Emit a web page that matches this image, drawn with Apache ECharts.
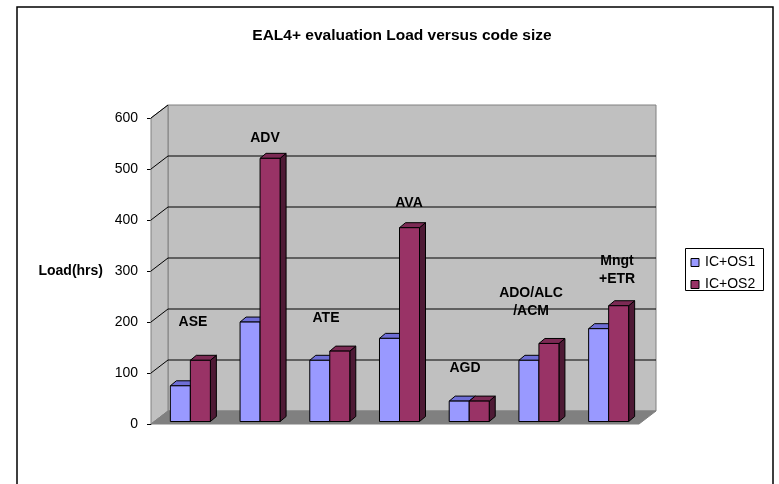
<!DOCTYPE html>
<html>
<head>
<meta charset="utf-8">
<script src="https://cdn.jsdelivr.net/npm/echarts@6/dist/echarts.min.js"></script>
<style>
  html, body { margin: 0; padding: 0; background: #fff; }
  #chart { width: 779px; height: 484px; }
</style>
</head>
<body>
<div id="chart"></div>
<script>
// Evaluation phases (one pair of columns per phase)
const categories = ['ASE', 'ADV', 'ATE', 'AVA', 'AGD', 'ADO', 'Mngt'];
// Load in hours per phase
const icOs1 = [70, 195, 120, 163, 40, 120, 182];
const icOs2 = [120, 516, 138, 380, 40, 153, 227];
const seriesNames = ['IC+OS1', 'IC+OS2'];
// Phase captions and the load level each caption sits at
const noteText = ['ASE', 'ADV', 'ATE', 'AVA', 'AGD', 'ADO/ALC\n/ACM', 'Mngt\n+ETR'];
const noteLevel = [195, 556, 203, 428, 105, 234, 296];
// Axis ticks
const yTicks = [0, 100, 200, 300, 400, 500, 600];

const FONT = 'Liberation Sans, Arial, sans-serif';
// Perspective: back wall offset from the front plane, and bar placement inside the box
const DEPTH = [17, -13];
const BAR_SHIFT = [4.5, -2.5];
const BAR_DEPTH = [6, -5];
const NOTE_NUDGE = [2.6, 4.9, -3.8, 9.5, -4.2, -7.9, 8.4];

const palette = [
  { front: '#9999ff', top: '#6e6ed6', side: '#4d4d99' },
  { front: '#993366', top: '#7c2a54', side: '#4e1a35' }
];

function poly(points, fill, stroke, lw) {
  return { type: 'polygon', shape: { points: points },
           style: { fill: fill, stroke: stroke, lineWidth: lw || 1 } };
}

// Walls, floor and gridlines of the 3-D box
function renderBox(params, api) {
  const cs = params.coordSys;
  const x0 = cs.x, y0 = cs.y, x1 = cs.x + cs.width, y1 = cs.y + cs.height;
  const dx = DEPTH[0], dy = DEPTH[1];
  const kids = [];
  kids.push(poly([[x0 + dx, y0 + dy], [x1 + dx, y0 + dy], [x1 + dx, y1 + dy], [x0 + dx, y1 + dy]], '#c0c0c0', '#808080'));
  kids.push(poly([[x0, y0], [x0 + dx, y0 + dy], [x0 + dx, y1 + dy], [x0, y1]], '#c0c0c0', '#808080'));
  kids.push(poly([[x0, y1], [x0 + dx, y1 + dy], [x1 + dx, y1 + dy], [x1, y1]], '#808080', '#808080'));
  yTicks.forEach(function (t) {
    if (t === yTicks[0]) return;
    const y = api.coord([0, t])[1];
    const pts = (t === yTicks[yTicks.length - 1])
      ? [[x0, y], [x0 + dx, y + dy]]
      : [[x0, y], [x0 + dx, y + dy], [x1 + dx, y + dy]];
    kids.push({ type: 'polyline', shape: { points: pts },
                style: { stroke: '#000', lineWidth: 1, fill: null } });
  });
  return { type: 'group', children: kids };
}

// One 3-D column: front, top and right-hand faces
function barRenderer(idx) {
  return function (params, api) {
    const i = api.value(0), v = api.value(1);
    const band = api.size([1, 0])[0];
    const bw = band * 0.287;
    const c = api.coord([i, v]);
    const base = api.coord([i, 0]);
    const cx = c[0] + BAR_SHIFT[0];
    const L = idx === 0 ? cx - bw : cx;
    const R = L + bw;
    const T = c[1] + BAR_SHIFT[1];
    const B = base[1] + BAR_SHIFT[1];
    const ex = BAR_DEPTH[0], ey = BAR_DEPTH[1];
    const col = palette[idx];
    return { type: 'group', children: [
      poly([[R, T], [R + ex, T + ey], [R + ex, B + ey], [R, B]], col.side, '#000'),
      poly([[L, T], [L + ex, T + ey], [R + ex, T + ey], [R, T]], col.top, '#000'),
      poly([[L, T], [R, T], [R, B], [L, B]], col.front, '#000')
    ] };
  };
}

function renderNote(params, api) {
  const i = api.value(0);
  const p = api.coord([i, api.value(1)]);
  return { type: 'text', x: p[0] + BAR_SHIFT[0] + NOTE_NUDGE[i], y: p[1] + BAR_SHIFT[1],
    style: { text: noteText[i], fill: '#000', font: 'bold 14px ' + FONT,
             align: 'center', verticalAlign: 'middle', lineHeight: 18 } };
}

const chart = echarts.init(document.getElementById('chart'), null, { renderer: 'canvas' });

chart.setOption({
  animation: false,
  backgroundColor: '#fff',
  textStyle: { fontFamily: FONT },
  title: {
    text: 'EAL4+ evaluation Load versus code size',
    left: 397, top: 23, textAlign: 'center',
    textStyle: { fontFamily: FONT, fontWeight: 'bold', fontSize: 15.5, color: '#000' }
  },
  legend: {
    data: seriesNames,
    orient: 'vertical',
    left: 685, top: 248,
    padding: [7.5, 5, 0, 5.5],
    itemGap: 8,
    itemWidth: 8, itemHeight: 8,
    icon: 'rect',
    itemStyle: { borderColor: '#000', borderWidth: 1 },
    textStyle: { fontFamily: FONT, fontSize: 14, color: '#000', lineHeight: 14, padding: [0, 0, 0, 1] }
  },
  grid: { left: 151, right: 140, top: 118, bottom: 60 },
  xAxis: {
    type: 'category', data: categories, boundaryGap: true,
    axisLine: { show: false }, axisTick: { show: false }, axisLabel: { show: false }
  },
  yAxis: {
    type: 'value', min: 0, max: 600, interval: 100,
    name: 'Load(hrs)', nameLocation: 'middle', nameRotate: 0, nameGap: 48,
    nameTextStyle: { fontFamily: FONT, fontWeight: 'bold', fontSize: 14, color: '#000', align: 'right' },
    axisLine: { show: true, lineStyle: { color: '#000', width: 1 } },
    axisTick: { show: true, length: 4, lineStyle: { color: '#000' } },
    axisLabel: { fontFamily: FONT, fontSize: 14, color: '#000', margin: 13 },
    splitLine: { show: false }
  },
  series: [
    { type: 'custom', name: 'box', silent: true, z: 1,
      data: [[0, 0]], renderItem: renderBox, encode: { x: 0, y: 1 } },
    { type: 'custom', name: seriesNames[0], z: 3,
      data: icOs1.map(function (v, i) { return [i, v]; }),
      renderItem: barRenderer(0), encode: { x: 0, y: 1 },
      itemStyle: { color: palette[0].front, borderColor: '#000', borderWidth: 1 } },
    { type: 'custom', name: seriesNames[1], z: 4,
      data: icOs2.map(function (v, i) { return [i, v]; }),
      renderItem: barRenderer(1), encode: { x: 0, y: 1 },
      itemStyle: { color: palette[1].front, borderColor: '#000', borderWidth: 1 } },
    { type: 'custom', name: 'notes', silent: true, z: 5,
      data: noteLevel.map(function (v, i) { return [i, v]; }),
      renderItem: renderNote, encode: { x: 0, y: 1 } }
  ],
  graphic: [
    { type: 'rect', z: 100, silent: true,
      shape: { x: 17, y: 7, width: 756, height: 490 },
      style: { fill: null, stroke: '#000', lineWidth: 1.5 } },
    { type: 'rect', z: 100, silent: true,
      shape: { x: 685.5, y: 248.5, width: 78, height: 42 },
      style: { fill: null, stroke: '#000', lineWidth: 1 } }
  ]
});
</script>
</body>
</html>
